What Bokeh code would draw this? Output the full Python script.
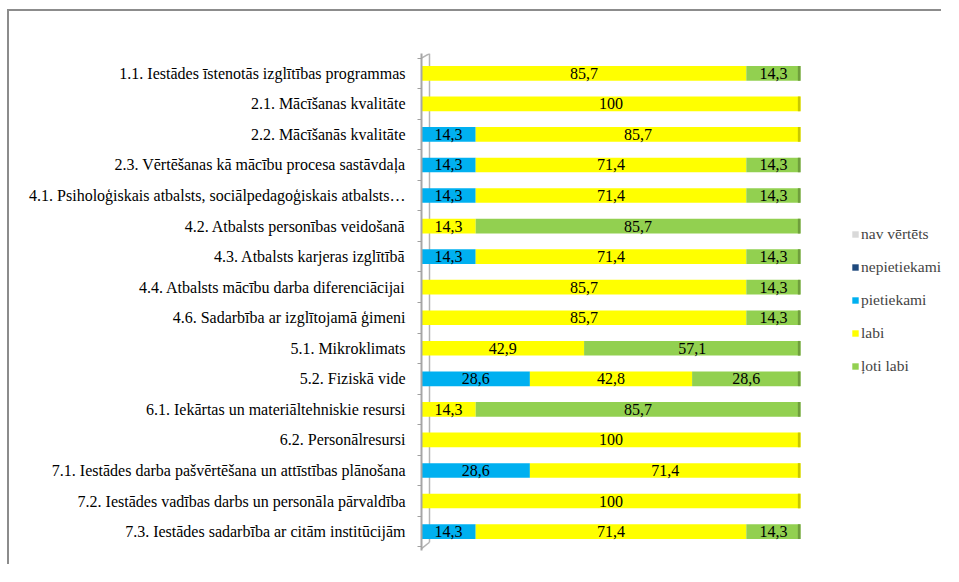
from bokeh.plotting import figure
from bokeh.models import Range1d, FixedTicker, ColumnDataSource, Legend, LegendItem
from bokeh.embed import file_html
from bokeh.resources import INLINE
from bokeh.core.properties import value

categories = [
    "1.1. Iestādes īstenotās izglītības programmas",
    "2.1. Mācīšanas kvalitāte",
    "2.2. Mācīšanās kvalitāte",
    "2.3. Vērtēšanas kā mācību procesa sastāvdaļa",
    "4.1. Psiholoģiskais atbalsts, sociālpedagoģiskais atbalsts…",
    "4.2. Atbalsts personības veidošanā",
    "4.3. Atbalsts karjeras izglītībā",
    "4.4. Atbalsts mācību darba diferenciācijai",
    "4.6. Sadarbība ar izglītojamā ģimeni",
    "5.1. Mikroklimats",
    "5.2. Fiziskā vide",
    "6.1. Iekārtas un materiāltehniskie resursi",
    "6.2. Personālresursi",
    "7.1. Iestādes darba pašvērtēšana un attīstības plānošana",
    "7.2. Iestādes vadības darbs un personāla pārvaldība",
    "7.3. Iestādes sadarbība ar citām institūcijām",
]
nav_vertets = [0] * 16
nepietiekami = [0] * 16
pietiekami = [0, 0, 14.3, 14.3, 14.3, 0, 14.3, 0, 0, 0, 28.6, 0, 0, 28.6, 0, 14.3]
labi = [85.7, 100, 85.7, 71.4, 71.4, 14.3, 71.4, 85.7, 85.7, 42.9, 42.8, 14.3, 100, 71.4, 100, 71.4]
loti_labi = [14.3, 0, 0, 14.3, 14.3, 85.7, 14.3, 14.3, 14.3, 57.1, 28.6, 85.7, 0, 0, 0, 14.3]

series_names = ["nav vērtēts", "nepietiekami", "pietiekami", "labi", "ļoti labi"]
series_vals = [nav_vertets, nepietiekami, pietiekami, labi, loti_labi]
colors = ["#d9d9d9", "#1f497d", "#00b0f0", "#ffff00", "#92d050"]
cap_colors = ["#b0b0b0", "#173a63", "#0090c8", "#c8c800", "#6f9e3c"]

n = len(categories)
ypos = [n - 0.5 - i for i in range(n)]

OX, OY = 9, 11          # canvas origin on the page (after chart border)
W, H = 943 - OX, 566 - OY
left_b, right_b, top_b, bottom_b = 421 - OX, 0, 53 - OY, 16
px_per_unit = 3.79
p = figure(width=W, height=H, output_backend="svg", toolbar_location=None,
           x_range=Range1d(0, (W - left_b - right_b) / px_per_unit),
           y_range=Range1d(-0.12, n + 0.15),
           min_border_left=left_b, min_border_right=right_b,
           min_border_top=top_b, min_border_bottom=bottom_b)
p.margin = (OY - 2, 0, 0, OX - 2)
p.styles = {"border-top": "2px solid #8c8c8c", "border-left": "2px solid #8c8c8c"}
p.outline_line_color = None
p.xgrid.visible = False
p.ygrid.visible = False
p.xaxis.visible = False

yax = p.yaxis[0]
yax.ticker = FixedTicker(ticks=ypos, minor_ticks=list(range(n + 1)))
yax.major_label_overrides = {y: c for y, c in zip(ypos, categories)}
yax.major_label_text_font = "Liberation Serif"
yax.major_label_text_font_size = "16px"
yax.major_label_text_color = "#000000"
yax.major_tick_line_color = None
yax.major_tick_out = 0
yax.major_tick_in = 0
yax.minor_tick_line_color = "#a0a0a0"
yax.minor_tick_out = 4
yax.minor_tick_in = 0
yax.axis_line_color = "#a6a6a6"
yax.axis_line_width = 2
yax.major_label_standoff = 12

# 3D back wall of the category axis
d = 8 / px_per_unit
p.line(x=[0, d, d], y=[n, n + 0.15, 0.15], line_color="#b4b4b4", line_width=1.5)
p.line(x=[0, d], y=[-0.06, 0.15], line_color="#b4b4b4", line_width=1.5)

data = {"y": ypos}
for name, vals in zip(series_names, series_vals):
    data[name] = vals
src = ColumnDataSource(data)

renderers = p.hbar_stack(series_names, y="y", height=0.48, source=src,
                         color=colors, line_color=None)

lefts = [0.0] * n
lx, ly, lt = [], [], []
cap_l, cap_r, cap_y, cap_c = [], [], [], []
totals = [sum(v[i] for v in series_vals) for i in range(n)]
for vals, cc in zip(series_vals, cap_colors):
    for i in range(n):
        v = vals[i]
        if v > 0:
            lx.append(lefts[i] + v / 2)
            ly.append(ypos[i])
            lt.append(f"{v:g}".replace(".", ","))
            if abs(lefts[i] + v - totals[i]) < 1e-6:
                cap_l.append(lefts[i] + v - 0.7)
                cap_r.append(lefts[i] + v)
                cap_y.append(ypos[i])
                cap_c.append(cc)
            lefts[i] += v
p.hbar(y=cap_y, left=cap_l, right=cap_r, height=0.48, color=cap_c, line_color=None)
p.text(x=lx, y=ly, text=lt, text_align="center", text_baseline="middle",
       text_font=value("Liberation Serif"), text_font_size="16px", text_color="#000000")

legend = Legend(items=[LegendItem(label=nm, renderers=[r]) for nm, r in zip(series_names, renderers)],
                location=(430, 174), glyph_width=8, glyph_height=8, label_height=20,
                spacing=13, padding=0, margin=0, label_standoff=2,
                label_text_font="Liberation Serif", label_text_font_size="15.5px",
                border_line_color=None, background_fill_alpha=0)
p.add_layout(legend)

open("out.html", "w").write(file_html(p, INLINE))
